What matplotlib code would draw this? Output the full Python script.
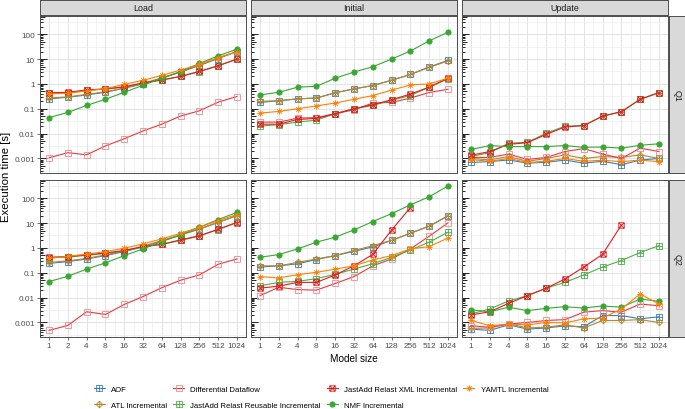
import numpy as np
import matplotlib
matplotlib.use('Agg')
from matplotlib import pyplot as plt
from matplotlib.path import Path
from matplotlib.lines import Line2D
from matplotlib.ticker import FixedLocator, NullFormatter

plt.rcParams['font.family'] = ['Liberation Sans', 'DejaVu Sans']

nan = np.nan
sizes = [1, 2, 4, 8, 16, 32, 64, 128, 256, 512, 1024]
size_labels = [str(s) for s in sizes]

tools = ['AOF', 'ATL Incremental', 'Differential Dataflow',
         'JastAdd Relast Reusable Incremental', 'JastAdd Relast XML Incremental',
         'NMF Incremental', 'YAMTL Incremental']
phases = ['Load', 'Initial', 'Update']
queries = ['Q1', 'Q2']

# execution times [s], one list per tool (order as in tools)
q1_load = [
    [0.25, 0.29, 0.36, 0.46, 0.67, 1.0, 1.7, 3.0, 5.5, 10.5, 20],
    [0.27, 0.30, 0.38, 0.48, 0.68, 1.05, 1.75, 3.1, 5.7, 11, 20],
    [0.00107, 0.0017, 0.0014, 0.0032, 0.0062, 0.0128, 0.024, 0.051, 0.083, 0.185, 0.31],
    [0.42, 0.45, 0.55, 0.62, 0.75, 1.08, 1.42, 2.0, 3.1, 5.3, 10],
    [0.44, 0.46, 0.57, 0.63, 0.76, 1.1, 1.45, 2.0, 3.2, 5.4, 10],
    [0.044, 0.071, 0.136, 0.24, 0.46, 0.88, 1.7, 3.1, 6.7, 13.5, 25],
    [0.40, 0.42, 0.52, 0.65, 0.95, 1.4, 2.2, 3.6, 6.2, 11.5, 20],
]
q1_initial = [
    [0.18, 0.21, 0.25, 0.27, 0.44, 0.63, 0.86, 1.4, 2.4, 4.8, 8.8],
    [0.20, 0.21, 0.25, 0.27, 0.44, 0.63, 0.86, 1.4, 2.4, 4.6, 8.4],
    [0.029, 0.029, 0.042, 0.044, 0.063, 0.091, 0.17, 0.18, 0.27, 0.45, 0.61],
    [0.020, 0.023, 0.029, 0.035, 0.063, 0.10, 0.136, 0.22, 0.34, 0.74, 1.6],
    [0.024, 0.024, 0.037, 0.041, 0.063, 0.10, 0.145, 0.23, 0.39, 0.74, 1.7],
    [0.36, 0.46, 0.74, 0.80, 1.7, 3.0, 4.9, 10, 21, 54, 120],
    [0.067, 0.078, 0.10, 0.13, 0.17, 0.24, 0.34, 0.56, 0.91, 1.0, 1.7],
]
q1_update = [
    [0.00069, 0.00075, 0.00087, 0.00065, 0.0007, 0.00086, 0.00065, 0.00077, 0.00056, 0.00086, 0.001],
    [0.001, 0.00088, 0.0012, 0.00077, 0.001, 0.0014, 0.001, 0.0012, 0.0011, 0.0014, 0.001],
    [0.0011, 0.0011, 0.0015, 0.00091, 0.0011, 0.0019, 0.0025, 0.0015, 0.001, 0.0026, 0.0019],
    [0.0012, 0.0017, 0.0041, 0.0045, 0.0103, 0.020, 0.021, 0.050, 0.075, 0.24, 0.44],
    [0.00135, 0.0019, 0.0037, 0.0043, 0.0093, 0.0185, 0.021, 0.051, 0.076, 0.24, 0.45],
    [0.0023, 0.0033, 0.003, 0.003, 0.003, 0.0033, 0.0028, 0.0029, 0.0026, 0.0034, 0.0039],
    [0.0009, 0.00077, 0.001, 0.00069, 0.00077, 0.001, 0.00077, 0.00085, 0.00074, 0.00086, 0.00074],
]
q2_load = [
    [0.24, 0.28, 0.36, 0.49, 0.71, 1.1, 1.9, 3.3, 5.7, 10.5, 20],
    [0.26, 0.30, 0.38, 0.52, 0.76, 1.17, 1.97, 3.4, 5.8, 10.8, 20],
    [0.00048, 0.00076, 0.0027, 0.0021, 0.0053, 0.011, 0.025, 0.05, 0.082, 0.22, 0.36],
    [0.40, 0.43, 0.50, 0.60, 0.75, 1.1, 1.38, 2.0, 3.0, 5.5, 10.8],
    [0.42, 0.45, 0.52, 0.63, 0.78, 1.13, 1.4, 2.1, 3.1, 5.6, 10.5],
    [0.044, 0.072, 0.14, 0.25, 0.49, 0.91, 1.8, 3.3, 6.8, 13.8, 27],
    [0.38, 0.46, 0.56, 0.71, 0.97, 1.45, 2.3, 3.9, 6.8, 12.6, 22],
]
q2_initial = [
    [0.17, 0.19, 0.23, 0.34, 0.49, 0.73, 1.1, 2.0, 3.9, 7.5, 19.5],
    [0.19, 0.19, 0.26, 0.36, 0.49, 0.78, 1.24, 2.0, 3.9, 7.5, 19.5],
    [0.012, 0.026, 0.021, 0.020, 0.037, 0.07, 0.19, 0.36, 0.91, 2.95, 10.2],
    [0.030, 0.041, 0.045, 0.058, 0.087, 0.14, 0.23, 0.42, 0.83, 1.7, 4.3],
    [0.024, 0.029, 0.041, 0.041, 0.082, 0.19, 0.55, 5.2, 42, nan, nan],
    [0.42, 0.54, 0.91, 1.7, 2.7, 5.3, 11.5, 24, 54, 114, 310],
    [0.070, 0.062, 0.084, 0.104, 0.14, 0.19, 0.33, 0.49, 0.91, 1.13, 2.5],
]
q2_update = [
    [0.00054, 0.00048, 0.0008, 0.00054, 0.0006, 0.00073, 0.00067, 0.0019, 0.0019, 0.0014, 0.0017],
    [0.00058, 0.0006, 0.0009, 0.0006, 0.00065, 0.0008, 0.0006, 0.0012, 0.0012, 0.0013, 0.001],
    [0.00074, 0.00064, 0.00086, 0.001, 0.0012, 0.0013, 0.0026, 0.003, 0.0026, 0.0055, 0.0047],
    [0.0022, 0.0035, 0.0073, 0.012, 0.024, 0.041, 0.082, 0.17, 0.31, 0.65, 1.24],
    [0.002, 0.0027, 0.0059, 0.012, 0.024, 0.056, 0.17, 0.55, 8.4, nan, nan],
    [0.0032, 0.0027, 0.0041, 0.003, 0.0037, 0.0043, 0.0038, 0.0046, 0.0041, 0.0088, 0.0071],
    [0.0012, 0.00074, 0.00086, 0.0008, 0.001, 0.00096, 0.0014, 0.0015, 0.0035, 0.014, 0.0055],
]

panels = {('Q1', 'Load'): q1_load, ('Q1', 'Initial'): q1_initial, ('Q1', 'Update'): q1_update,
          ('Q2', 'Load'): q2_load, ('Q2', 'Initial'): q2_initial, ('Q2', 'Update'): q2_update}


# ggplot-like marker shapes
def shape(parts):
    verts, codes = [], []
    for pts, closed in parts:
        verts += pts
        codes += [Path.MOVETO] + [Path.LINETO] * (len(pts) - 1)
        if closed:
            verts.append(pts[0])
            codes.append(Path.CLOSEPOLY)
    return Path(verts, codes)


sq = ([(-1, -1), (1, -1), (1, 1), (-1, 1)], True)
plus = [([(-1, 0), (1, 0)], False), ([(0, -1), (0, 1)], False)]
cross = [([(-1, -1), (1, 1)], False), ([(-1, 1), (1, -1)], False)]
d = 0.72
star = plus + [([(-d, -d), (d, d)], False), ([(-d, d), (d, -d)], False)]
diamond = ([(0, -1.3), (1.3, 0), (0, 1.3), (-1.3, 0)], True)
dplus = [([(-1.3, 0), (1.3, 0)], False), ([(0, -1.3), (0, 1.3)], False)]

styles = {
    'AOF': dict(color='#377EB8', marker=shape([sq] + plus), mfc='none', ms=3.9),
    'ATL Incremental': dict(color='#B8862B', marker=shape([diamond] + dplus), mfc='none', ms=4.8),
    'Differential Dataflow': dict(color='#E8393C', marker='s', mfc='none', mec='#F2878A', ms=3.9),
    'JastAdd Relast Reusable Incremental': dict(color='#4DAF4A', marker=shape([sq] + plus), mfc='none', ms=3.9),
    'JastAdd Relast XML Incremental': dict(color='#E41A1C', marker=shape([sq] + cross), mfc='none', ms=3.9),
    'NMF Incremental': dict(color='#38A832', marker='o', ms=3.8),
    'YAMTL Incremental': dict(color='#FF7F00', marker=shape(star), mfc='none', ms=4.6),
}

W, H = 685, 410
fig = plt.figure(figsize=(W / 100, H / 100), dpi=100)


def rect(x, y, w, h):
    return [x / W, 1 - (y + h) / H, w / W, h / H]


col_x = [40, 251, 462]
row_y = [17, 181]
pw, ph = 206, 157
border = '#4D4D4D'
ymin, ymax = 2.6e-4, 540

for r, q in enumerate(queries):
    for c, phase in enumerate(phases):
        ax = fig.add_axes(rect(col_x[c], row_y[r], pw, ph))
        ax.set_xscale('log', base=2)
        ax.set_yscale('log')
        ax.set_xlim(2 ** -0.48, 2 ** 10.48)
        ax.set_ylim(ymin, ymax)
        ax.xaxis.set_major_locator(FixedLocator(sizes))
        ax.xaxis.set_minor_locator(FixedLocator([2 ** (k + 0.5) for k in range(-1, 11)]))
        ax.yaxis.set_major_locator(FixedLocator([10.0 ** k for k in range(-3, 3)]))
        ax.yaxis.set_minor_locator(FixedLocator([10 ** (k + 0.5) for k in range(-4, 3)]))
        ax.xaxis.set_minor_formatter(NullFormatter())
        ax.yaxis.set_minor_formatter(NullFormatter())
        ax.grid(which='major', color='#E3E3E3', lw=0.75)
        ax.grid(which='minor', color='#EDEDED', lw=0.5)
        ax.set_axisbelow(True)
        ax.tick_params(which='minor', length=0)
        ax.tick_params(which='major', length=2.2, width=0.5, color='#333333',
                       labelsize=5.9, labelcolor='#4D4D4D', pad=1.5)
        if r == 1:
            ax.set_xticklabels(size_labels)
        else:
            ax.tick_params(axis='x', labelbottom=False, length=0)
        if c == 0:
            ax.set_yticklabels(['0.001', '0.01', '0.1', '1', '10', '100'])
        else:
            ax.tick_params(axis='y', labelleft=False, length=0)
        for s in ax.spines.values():
            s.set_color(border)
            s.set_linewidth(0.7)

        # log ticks inside the panel on the left
        trans = ax.get_yaxis_transform()
        for k in range(-4, 3):
            for m in range(1, 10):
                v = m * 10.0 ** k
                if v < ymin or v > ymax:
                    continue
                L = 7 if m == 1 else (5 if m == 5 else 3)
                ax.plot([0, L / pw], [v, v], color='black', lw=0.6, transform=trans,
                        solid_capstyle='butt', zorder=1)

        for tool, vals in zip(tools, panels[(q, phase)]):
            ax.plot(sizes, vals, lw=0.8, mew=0.6, label=tool, zorder=3, **styles[tool])

# facet strips
for c, phase in enumerate(phases):
    sax = fig.add_axes(rect(col_x[c], 0.5, pw, 15.5))
    sax.set_facecolor('#D9D9D9')
    sax.set_xticks([])
    sax.set_yticks([])
    for s in sax.spines.values():
        s.set_color(border)
        s.set_linewidth(0.7)
    sax.text(0.5, 0.5, phase, ha='center', va='center', fontsize=6.4, color='#1A1A1A',
             transform=sax.transAxes)
for r, q in enumerate(queries):
    sax = fig.add_axes(rect(669, row_y[r], 15.5, ph))
    sax.set_facecolor('#D9D9D9')
    sax.set_xticks([])
    sax.set_yticks([])
    for s in sax.spines.values():
        s.set_color(border)
        s.set_linewidth(0.7)
    sax.text(0.5, 0.5, q, ha='center', va='center', rotation=-90, fontsize=6.4,
             color='#1A1A1A', transform=sax.transAxes)

fig.text(6 / W, 1 - 177 / H, 'Execution time [s]', rotation=90, ha='center', va='center',
         fontsize=8.2)
fig.text(354 / W, 1 - 359 / H, 'Model size', ha='center', va='center', fontsize=7.2)

handles = [Line2D([], [], lw=0.8, mew=0.6, **styles[t]) for t in tools]
fig.legend(handles, tools, loc='center', bbox_to_anchor=(321 / W, 1 - 398 / H), ncol=4,
           frameon=False, fontsize=5.6, handlelength=1.4, handletextpad=0.8,
           columnspacing=0.8, labelspacing=1.15)

fig.savefig('out.png', dpi=100)
